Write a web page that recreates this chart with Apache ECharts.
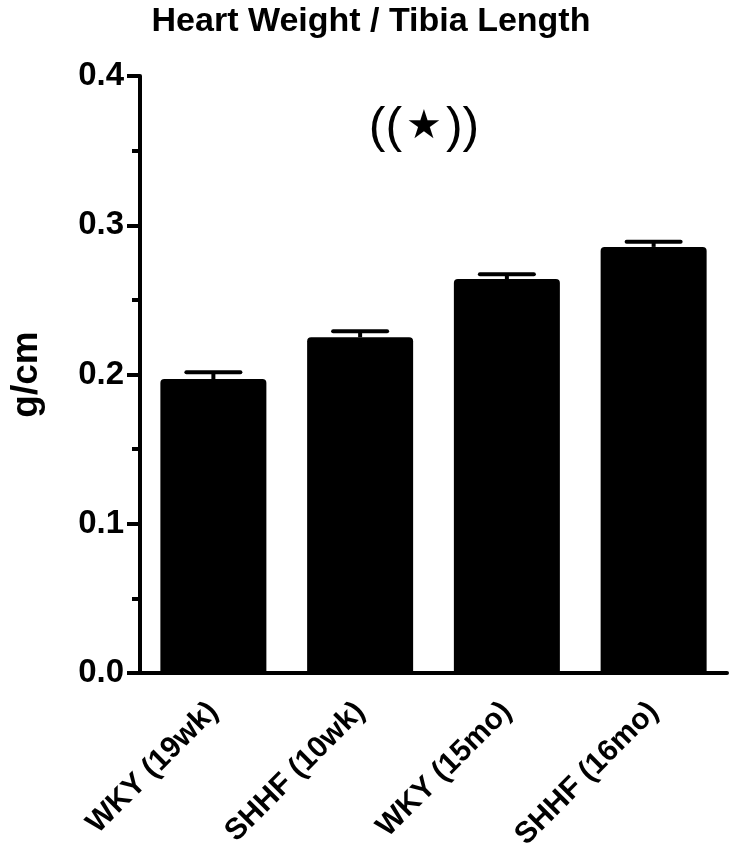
<!DOCTYPE html>
<html>
<head>
<meta charset="utf-8">
<script src="https://cdn.jsdelivr.net/npm/echarts@6/dist/echarts.min.js"></script>
<style>html,body{margin:0;padding:0;background:#fff}#c{width:731px;height:853px}</style>
</head>
<body>
<div id="c"></div>
<script>
const categories = ['WKY (19wk)', 'SHHF (10wk)', 'WKY (15mo)', 'SHHF (16mo)'];
const means = [0.197, 0.225, 0.264, 0.2855];
const errUpper = [0.2015, 0.2290, 0.2672, 0.2890];
const yTicks = [0.0, 0.1, 0.2, 0.3, 0.4];
const titleText = 'Heart Weight / Tibia Length';
const yName = 'g/cm';

const FONT = "'Liberation Sans', Arial, sans-serif";
const chart = echarts.init(document.getElementById('c'), null, {renderer: 'canvas'});
chart.setOption({
  backgroundColor: '#fff',
  animation: false,
  title: {
    text: titleText, left: 366, top: 0, textAlign: 'center',
    textStyle: {fontFamily: FONT, fontWeight: 'bold', fontSize: 34, color: '#000'}
  },
  grid: {left: 125, right: 4, top: 76, bottom: 172, containLabel: false},
  xAxis: {
    type: 'category', data: categories,
    axisLine: {lineStyle: {color: '#000', width: 4}},
    axisTick: {alignWithLabel: true, length: 14, lineStyle: {color: '#000', width: 4}},
    axisLabel: {rotate: 45, fontFamily: FONT, fontWeight: 'bold', fontSize: 30, color: '#000', margin: 34}
  },
  yAxis: {
    type: 'value', min: yTicks[0], max: yTicks[yTicks.length - 1], interval: 0.1,
    name: yName, nameLocation: 'middle', nameGap: 95, nameRotate: 90,
    nameTextStyle: {fontFamily: FONT, fontWeight: 'bold', fontSize: 37, color: '#000'},
    axisLine: {show: true, lineStyle: {color: '#000', width: 4}},
    axisTick: {show: true, length: 13, lineStyle: {color: '#000', width: 4}},
    minorTick: {show: true, splitNumber: 2, length: 8, lineStyle: {color: '#000', width: 4}},
    splitLine: {show: false},
    axisLabel: {fontFamily: FONT, fontWeight: 'bold', fontSize: 33, color: '#000', margin: 16,
      formatter: v => v.toFixed(1)}
  },
  series: [
    {
      type: 'bar', data: means, barWidth: 106,
      itemStyle: {color: '#000', borderRadius: [4, 4, 0, 0]}
    },
    {
      type: 'custom', z: 3,
      data: means.map((m, i) => [i, m, errUpper[i]]),
      renderItem: function (params, api) {
        const base = api.coord([api.value(0), api.value(1)]);
        const top = api.coord([api.value(0), api.value(2)]);
        const half = 27;
        return {
          type: 'group',
          children: [
            {type: 'line', shape: {x1: base[0], y1: base[1], x2: top[0], y2: top[1]},
             style: {stroke: '#000', lineWidth: 4}},
            {type: 'line', shape: {x1: top[0] - half, y1: top[1], x2: top[0] + half, y2: top[1]},
             style: {stroke: '#000', lineWidth: 4, lineCap: 'round'}}
          ]
        };
      }
    }
  ],
  graphic: [{
    type: 'text', x: 424, y: 128,
    style: {
      text: '{p|((}{s|\u2605}{p|))}',
      align: 'center', verticalAlign: 'middle',
      rich: {
        p: {fontFamily: FONT, fontSize: 50, fill: '#000', color: '#000'},
        s: {fontFamily: "'DejaVu Sans'", fontSize: 40, fill: '#000', color: '#000', padding: [0, 4, 0, 4]}
      }
    }
  }]
});
</script>
</body>
</html>
